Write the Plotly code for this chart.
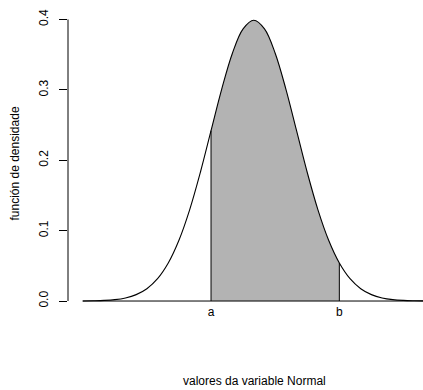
import plotly.graph_objects as go

# Standard normal density, sampled at quarter steps
x_vals = [-4.00, -3.75, -3.50, -3.25, -3.00, -2.75, -2.50, -2.25, -2.00,
          -1.75, -1.50, -1.25, -1.00, -0.75, -0.50, -0.25, 0.00,
          0.25, 0.50, 0.75, 1.00, 1.25, 1.50, 1.75, 2.00,
          2.25, 2.50, 2.75, 3.00, 3.25, 3.50, 3.75, 4.00]
dens = [0.0001, 0.0004, 0.0009, 0.0020, 0.0044, 0.0091, 0.0175, 0.0317, 0.0540,
        0.0863, 0.1295, 0.1826, 0.2420, 0.3011, 0.3521, 0.3867, 0.3989,
        0.3867, 0.3521, 0.3011, 0.2420, 0.1826, 0.1295, 0.0863, 0.0540,
        0.0317, 0.0175, 0.0091, 0.0044, 0.0020, 0.0009, 0.0004, 0.0001]

# interval limits and their axis labels
a_val = -1.0
b_val = 2.0
x_tick_text = ["a", "b"]
y_tick_vals = [0.0, 0.1, 0.2, 0.3, 0.4]

FONT = "Liberation Sans, Arial, Helvetica, sans-serif"

# points of the curve inside [a, b]
sx = [x for x in x_vals if a_val <= x <= b_val]
sy = [d for x, d in zip(x_vals, dens) if a_val <= x <= b_val]
da = dens[x_vals.index(a_val)]
db = dens[x_vals.index(b_val)]

fig = go.Figure()

# shaded area under the density between a and b
fig.add_trace(go.Scatter(
    x=sx, y=sy, mode="lines", line=dict(width=0, shape="spline"),
    fill="tozeroy", fillcolor="#B3B3B3", hoverinfo="skip"))

# vertical limits at a and b
fig.add_trace(go.Scatter(
    x=[a_val, a_val, None, b_val, b_val], y=[0, da, None, 0, db],
    mode="lines", line=dict(color="black", width=1), hoverinfo="skip"))

# baseline
fig.add_trace(go.Scatter(
    x=[x_vals[0], x_vals[-1]], y=[0, 0], mode="lines",
    line=dict(color="black", width=1), hoverinfo="skip"))

# density curve
fig.add_trace(go.Scatter(
    x=x_vals, y=dens, mode="lines",
    line=dict(color="black", width=1.1, shape="spline"), hoverinfo="skip"))

fig.update_layout(
    width=423, height=390,
    margin=dict(l=68, r=0, t=9, b=78),
    paper_bgcolor="white", plot_bgcolor="white",
    showlegend=False,
    font=dict(family=FONT, size=12, color="black"),
    xaxis=dict(
        range=[-4.344, 3.956], showgrid=False, zeroline=False, showline=False,
        tickmode="array", tickvals=[a_val, b_val], ticktext=x_tick_text,
        ticks="", tickfont=dict(size=12, color="black"), ticklabelstandoff=-9),
    yaxis=dict(
        range=[-0.0156, 0.4149], showgrid=False, zeroline=False, showline=False,
        tickmode="array", tickvals=y_tick_vals, tickformat=".1f",
        ticks="outside", ticklen=8, tickwidth=1, tickcolor="black",
        tickangle=-90, tickfont=dict(size=12, color="black"),
        ticklabelstandoff=6),
    shapes=[dict(type="line", xref="paper", yref="y", x0=0, x1=0,
                 y0=y_tick_vals[0], y1=y_tick_vals[-1],
                 line=dict(color="black", width=1))],
    annotations=[
        dict(text="valores da variable Normal", xref="paper", yref="paper",
             x=(254 - 68) / 355, y=-(381 - 312) / 303, xanchor="center",
             yanchor="middle", showarrow=False, font=dict(size=12)),
        dict(text="función de densidade", xref="paper", yref="paper",
             x=-(68 - 15) / 355, y=0.49, xanchor="center", yanchor="middle",
             textangle=-90, showarrow=False, font=dict(size=12)),
    ],
)

fig.write_html("out.html")
